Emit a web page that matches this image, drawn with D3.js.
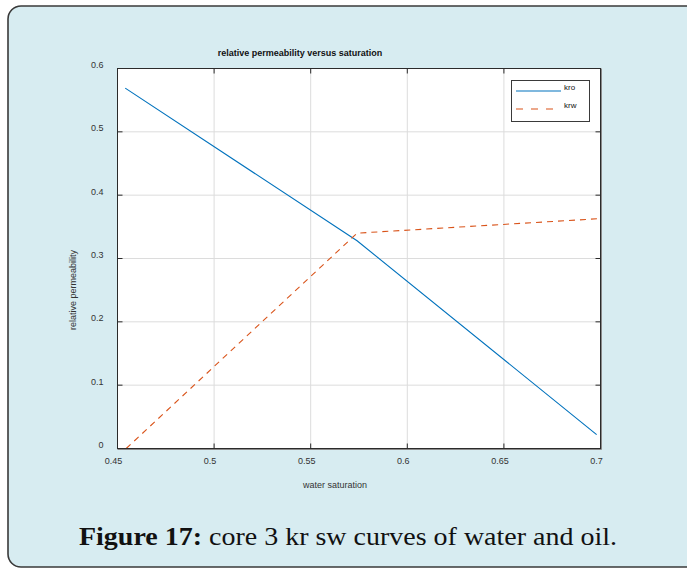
<!DOCTYPE html>
<html>
<head>
<meta charset="utf-8">
<script src="https://cdn.jsdelivr.net/npm/d3@7"></script>
<style>
  html, body { margin: 0; padding: 0; background: #ffffff; }
  svg { display: block; }
</style>
</head>
<body>
<svg id="fig" width="687" height="571"></svg>
<script>
// Water saturation samples and relative permeability values
const swKro = [0.454, 0.574, 0.698];
const kro   = [0.569, 0.328, 0.022];
const swKrw = [0.4545, 0.574, 0.700];
const krw   = [0.000, 0.340, 0.363];

const xTicks = [0.45, 0.5, 0.55, 0.6, 0.65, 0.7];
const xTickLabels = ["0.45", "0.5", "0.55", "0.6", "0.65", "0.7"];
const yTicks = [0, 0.1, 0.2, 0.3, 0.4, 0.5, 0.6];
const yTickLabels = ["0", "0.1", "0.2", "0.3", "0.4", "0.5", "0.6"];
const seriesNames = ["kro", "krw"];

const svg = d3.select("#fig");

// Caption panel
svg.append("rect")
  .attr("x", 8).attr("y", 6)
  .attr("width", 700).attr("height", 561)
  .attr("rx", 13).attr("ry", 13)
  .attr("fill", "#d7ecf1")
  .attr("stroke", "#3a3a3a").attr("stroke-width", 1.6);

const plot = { left: 117.5, right: 600.5, top: 68.5, bottom: 448.5 };

const x = d3.scaleLinear().domain([0.45, 0.7]).range([plot.left, plot.right]);
const y = d3.scaleLinear().domain([0, 0.6]).range([plot.bottom, plot.top]);

// Axes background
svg.append("rect")
  .attr("x", plot.left).attr("y", plot.top)
  .attr("width", plot.right - plot.left).attr("height", plot.bottom - plot.top)
  .attr("fill", "#ffffff");

// Grid
const grid = svg.append("g").attr("stroke", "#dcdcdc").attr("stroke-width", 1);
xTicks.slice(1, -1).forEach(v => {
  grid.append("line").attr("x1", x(v)).attr("x2", x(v)).attr("y1", plot.top).attr("y2", plot.bottom);
});
yTicks.slice(1, -1).forEach(v => {
  grid.append("line").attr("y1", y(v)).attr("y2", y(v)).attr("x1", plot.left).attr("x2", plot.right);
});

// Curves
const line = d3.line().x(d => x(d[0])).y(d => y(d[1]));
svg.append("path")
  .datum(swKro.map((s, i) => [s, kro[i]]))
  .attr("d", line)
  .attr("fill", "none").attr("stroke", "#0072bd").attr("stroke-width", 1.1);

svg.append("path")
  .datum(swKrw.map((s, i) => [s, krw[i]]))
  .attr("d", line)
  .attr("fill", "none").attr("stroke", "#d95319").attr("stroke-width", 1.1)
  .attr("stroke-dasharray", "6,5");

// Axes box with inward ticks
const box = svg.append("g").attr("stroke", "#2b2b2b").attr("stroke-width", 1).attr("fill", "none");
box.append("rect")
  .attr("x", plot.left).attr("y", plot.top)
  .attr("width", plot.right - plot.left).attr("height", plot.bottom - plot.top);
// slight shadow on right and bottom edges
svg.append("line").attr("x1", plot.right + 1).attr("x2", plot.right + 1)
  .attr("y1", plot.top).attr("y2", plot.bottom + 1).attr("stroke", "#8a8a8a");
svg.append("line").attr("x1", plot.left).attr("x2", plot.right + 1)
  .attr("y1", plot.bottom + 1).attr("y2", plot.bottom + 1).attr("stroke", "#8a8a8a");

const tickLen = 5;
xTicks.forEach(v => {
  box.append("line").attr("x1", x(v)).attr("x2", x(v)).attr("y1", plot.bottom).attr("y2", plot.bottom - tickLen);
  box.append("line").attr("x1", x(v)).attr("x2", x(v)).attr("y1", plot.top).attr("y2", plot.top + tickLen);
});
yTicks.forEach(v => {
  box.append("line").attr("y1", y(v)).attr("y2", y(v)).attr("x1", plot.left).attr("x2", plot.left + tickLen);
  box.append("line").attr("y1", y(v)).attr("y2", y(v)).attr("x1", plot.right).attr("x2", plot.right - tickLen);
});

// Tick labels
const fontSans = "'Liberation Sans', Arial, sans-serif";
svg.append("g").selectAll("text").data(xTicks).join("text")
  .attr("x", d => x(d) - 4).attr("y", plot.bottom + 15)
  .attr("text-anchor", "middle")
  .attr("font-family", fontSans).attr("font-size", 9).attr("fill", "#333")
  .text((d, i) => xTickLabels[i]);

svg.append("g").selectAll("text").data(yTicks).join("text")
  .attr("x", plot.left - 14).attr("y", d => y(d) - 0.5)
  .attr("text-anchor", "end")
  .attr("font-family", fontSans).attr("font-size", 9).attr("fill", "#333")
  .text((d, i) => yTickLabels[i]);

// Title and axis labels
svg.append("text")
  .attr("x", 300).attr("y", 56)
  .attr("text-anchor", "middle")
  .attr("font-family", fontSans).attr("font-size", 9).attr("font-weight", "bold").attr("fill", "#111")
  .text("relative permeability versus saturation");

svg.append("text")
  .attr("x", 335).attr("y", 488)
  .attr("text-anchor", "middle")
  .attr("font-family", fontSans).attr("font-size", 9).attr("fill", "#333")
  .text("water saturation");

svg.append("text")
  .attr("transform", "translate(76,290) rotate(-90)")
  .attr("text-anchor", "middle")
  .attr("font-family", fontSans).attr("font-size", 9).attr("fill", "#333")
  .text("relative permeability");

// Legend
const leg = svg.append("g");
leg.append("rect")
  .attr("x", 511.5).attr("y", 80.5).attr("width", 78).attr("height", 41)
  .attr("fill", "#ffffff").attr("stroke", "#3a3a3a").attr("stroke-width", 1);
const legColors = ["#0072bd", "#d95319"];
const legDash = [null, "7,8"];
seriesNames.forEach((name, i) => {
  const ly = 91 + i * 18;
  leg.append("line")
    .attr("x1", 516).attr("x2", 561).attr("y1", ly).attr("y2", ly)
    .attr("stroke", legColors[i]).attr("stroke-width", 1.1)
    .attr("stroke-dasharray", legDash[i]);
  leg.append("text")
    .attr("x", 564).attr("y", ly - 1)
    .attr("font-family", fontSans).attr("font-size", 8).attr("fill", "#111")
    .text(name);
});

// Figure caption
const cap = svg.append("text")
  .attr("x", 348).attr("y", 545)
  .attr("text-anchor", "middle")
  .attr("font-family", "'Liberation Serif', 'DejaVu Serif', serif")
  .attr("font-size", 25).attr("fill", "#111")
  .attr("textLength", 538).attr("lengthAdjust", "spacingAndGlyphs");
cap.append("tspan").attr("font-weight", "bold").text("Figure 17:");
cap.append("tspan").text(" core 3 kr sw curves of water and oil.");
</script>
</body>
</html>
